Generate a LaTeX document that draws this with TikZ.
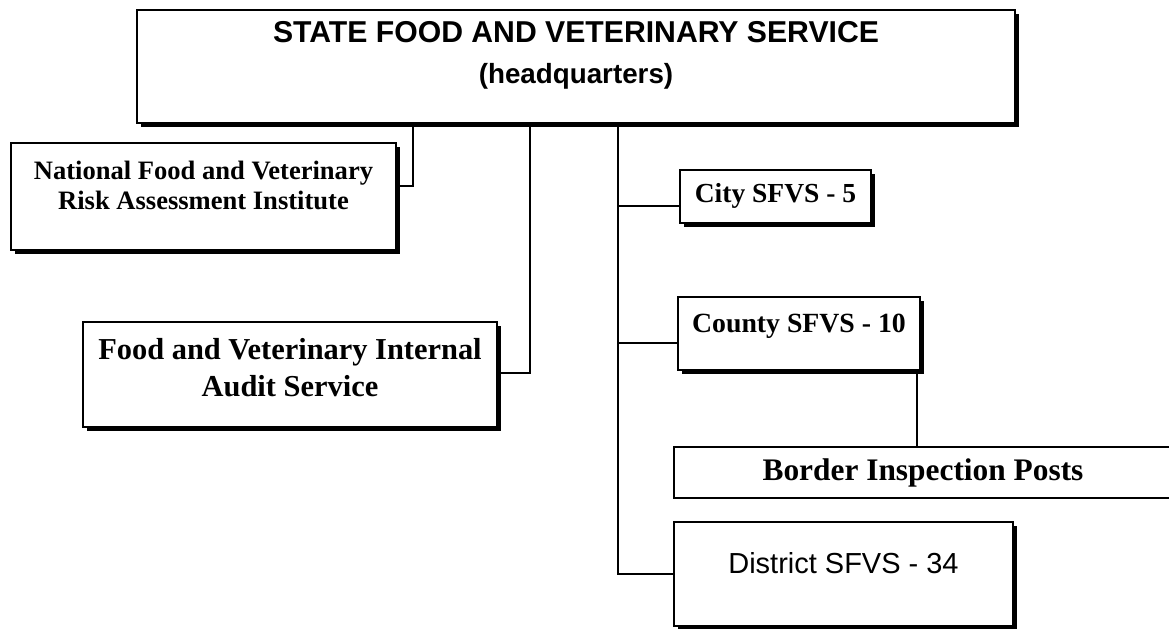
\documentclass[tikz,border=0pt]{standalone}
\usepackage{fontspec}
\setmainfont{Liberation Serif}
\setsansfont{Liberation Sans}
\usepackage{tikz}
\usetikzlibrary{shadows}

\newcommand{\unitpx}{0.01455cm}

\begin{document}
\begin{tikzpicture}[
    x=0.01455cm, y=-0.01455cm,
    unit/.style={rectangle, draw, line width=0.8pt, fill=white, inner sep=+0pt, align=center},
    shaded/.style={drop shadow={shadow xshift=1.7pt, shadow yshift=-1.7pt, opacity=1, fill=black}},
    link/.style={line width=0.6pt},
	font=\bfseries
    ]
\useasboundingbox (0,0) rectangle (1169,628);

% units
\node[unit, shaded, minimum width=878*\unitpx, minimum height=113*\unitpx, text depth=11.6pt, font=\sffamily\bfseries\fontsize{12.5}{16}\selectfont]  (hq) at (576,66.5) {STATE FOOD AND VETERINARY SERVICE\\[1pt]{\fontsize{11.5}{14}\selectfont (headquarters)}};
\node[unit, shaded, minimum width=385*\unitpx, minimum height=107*\unitpx, text depth=9pt, font=\bfseries\fontsize{11}{12.5}\selectfont]  (nat) at (203.5,196.5) {National Food and Veterinary\\Risk Assessment Institute};
\node[unit, shaded, minimum width=414*\unitpx, minimum height=105*\unitpx, text depth=5.8pt, font=\bfseries\fontsize{12.6}{15.3}\selectfont]  (aud) at (290,374.5) {Food and Veterinary Internal\\Audit Service};
\node[unit, shaded, minimum width=191*\unitpx, minimum height=53*\unitpx, text depth=3.3pt, font=\bfseries\fontsize{11.4}{14}\selectfont]  (city) at (775.5,196.5) {City SFVS - 5};
\node[unit, shaded, minimum width=242*\unitpx, minimum height=73*\unitpx, text depth=8.3pt, font=\bfseries\fontsize{11.5}{14}\selectfont]  (county) at (799,333.5) {County SFVS - 10};
\node[unit, minimum width=498*\unitpx, minimum height=51*\unitpx, font=\bfseries\fontsize{13}{15}\selectfont]  (border) at (923,472.5) {Border Inspection Posts};
\node[unit, shaded, minimum width=339*\unitpx, minimum height=104*\unitpx, text depth=9pt, font=\sffamily\mdseries\fontsize{12}{14}\selectfont]  (district) at (843.5,574) {District SFVS - 34};

% links
\coordinate (natjoin) at (413,186);
\coordinate (audjoin) at (530,373);
\coordinate (trunk) at (618,206);
\coordinate (countyjoin) at (618,343);
\coordinate (postsjoin) at (917,0);

\draw[link] (hq.south -| natjoin) |- (nat.east |- natjoin);
\draw[link] (hq.south -| audjoin) |- (aud.east |- audjoin);
\draw[link] (hq.south -| trunk) |- (district.west);
\draw[link] (trunk) -- (city.west |- trunk);
\draw[link] (countyjoin) -- (county.west |- countyjoin);
\draw[link] (county.south -| postsjoin) -- (border.north -| postsjoin);

\end{tikzpicture}
\end{document}
